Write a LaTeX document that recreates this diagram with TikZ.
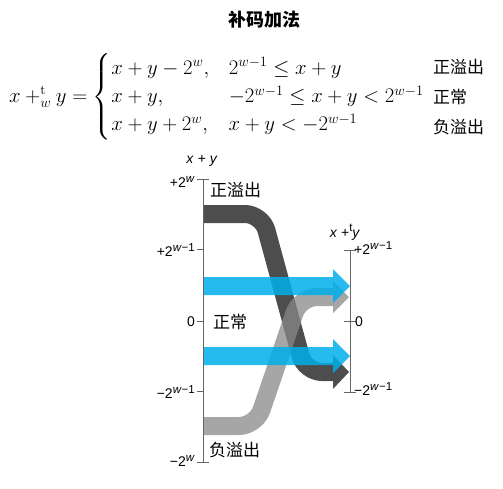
\documentclass[tikz,border=0pt]{standalone}
\usepackage{amsmath}
\usepackage{fontspec}
\newfontfamily\cjk{Noto Sans CJK SC}
\newfontfamily\lab{Liberation Sans}
\definecolor{bandDark}{HTML}{4D4D4D}
\definecolor{bandLight}{HTML}{888888}
\definecolor{bandBlue}{HTML}{00AEEA}
\definecolor{axisGray}{HTML}{666666}
\tikzset{
  axisline/.style={draw=axisGray, line width=0.9pt},
  darkband/.style={draw=bandDark, line width=18pt, rounded corners=17pt},
  darkhead/.style={fill=bandDark},
  lightband/.style={draw=bandLight, line width=18pt, rounded corners=17pt, draw opacity=0.75},
  lighthead/.style={fill=bandLight, fill opacity=0.75},
  bluearrow/.style={fill=bandBlue, fill opacity=0.85},
  ticklab/.style={font=\lab\fontsize{14}{15}\selectfont, inner sep=1pt},
  cjklab/.style={font=\cjk\fontsize{17}{18}\selectfont, inner sep=0pt},
}
\newcommand{\upscript}[1]{\raisebox{0.42em}{\fontsize{11.5}{12}\selectfont #1}}
\newcommand{\sw}{\upscript{\textit{w}}}
\newcommand{\swm}{\upscript{\textit{w}−1}}
\begin{document}
\begin{tikzpicture}[x=1pt,y=-1pt]
\useasboundingbox (0,0) rectangle (503,488);
% title
\node[font=\cjk\bfseries\fontsize{18}{20}\selectfont] (title) at (264,20) {补码加法};
% equation
\node[anchor=west, inner sep=0pt, font=\fontsize{19.6}{23.6}\selectfont] (eq) at (9,97)
 {$x \mathbin{+^{\mathrm{t}}_{w}} y = \begin{cases} x+y-2^w, & 2^{w-1}\le x+y\\ x+y, & -2^{w-1}\le x+y<2^{w-1}\\ x+y+2^w, & x+y<-2^{w-1}\end{cases}$};
\node[cjklab, anchor=west] (c1) at (433,67) {正溢出};
\node[cjklab, anchor=west] (c2) at (433,97) {正常};
\node[cjklab, anchor=west] (c3) at (433,127) {负溢出};
% coordinates
\coordinate (dA) at (203,214); \coordinate (dB) at (262,214);
\coordinate (dC) at (305,372); \coordinate (dD) at (333,372);
\coordinate (lA) at (203,426); \coordinate (lB) at (256,426);
\coordinate (lC) at (300,297); \coordinate (lD) at (333,297);
% dark band (positive overflow)
\draw[darkband] (dA) -- (dB) -- (dC) -- (dD);
\fill[darkhead] (333,355) -- (349,372) -- (333,389) -- cycle;
% light band (negative overflow)
\draw[lightband] (lA) -- (lB) -- (lC) -- (lD);
\fill[lighthead] (333,281) -- (349,297) -- (333,313) -- cycle;
% blue arrows (normal)
\fill[bluearrow] (203,277) -- (333,277) -- (333,269) -- (350,286) -- (333,303) -- (333,295) -- (203,295) -- cycle;
\fill[bluearrow] (203,347) -- (333,347) -- (333,339) -- (350,356) -- (333,373) -- (333,365) -- (203,365) -- cycle;
% left axis
\coordinate (Ltop) at (203,179); \coordinate (Lbot) at (203,462);
\draw[axisline] (Ltop) -- (Lbot);
\draw[axisline] (197,179) -- (209,179);
\draw[axisline] (197,249) -- (203,249);
\draw[axisline] (197,321) -- (203,321);
\draw[axisline] (197,391) -- (203,391);
\draw[axisline] (197,462) -- (209,462);
\node[ticklab] (lt) at (202,161) {\textit{x} + \textit{y}};
\node[ticklab, anchor=east] (l1) at (196,182) {+2\sw};
\node[ticklab, anchor=east] (l2) at (196,250) {+2\swm};
\node[ticklab, anchor=east] (l3) at (196,322) {0};
\node[ticklab, anchor=east] (l4) at (196,392) {−2\swm};
\node[ticklab, anchor=east] (l5) at (196,461) {−2\sw};
% right axis
\coordinate (Rtop) at (350,250); \coordinate (Rbot) at (350,392);
\draw[axisline] (Rtop) -- (Rbot);
\draw[axisline] (344,250) -- (356,250);
\draw[axisline] (344,321) -- (356,321);
\draw[axisline] (344,392) -- (356,392);
\node[ticklab] (rt) at (345,232) {\textit{x} +\upscript{t}\textit{y}};
\node[ticklab, anchor=west] (r1) at (353,248) {+2\swm};
\node[ticklab, anchor=west] (r2) at (354,322) {0};
\node[ticklab, anchor=west] (r3) at (353,389) {−2\swm};
% region labels
\node[cjklab, anchor=west] (g1) at (210,190) {正溢出};
\node[cjklab, anchor=west] (g2) at (213,322) {正常};
\node[cjklab, anchor=west] (g3) at (209,450) {负溢出};
\end{tikzpicture}
\end{document}
